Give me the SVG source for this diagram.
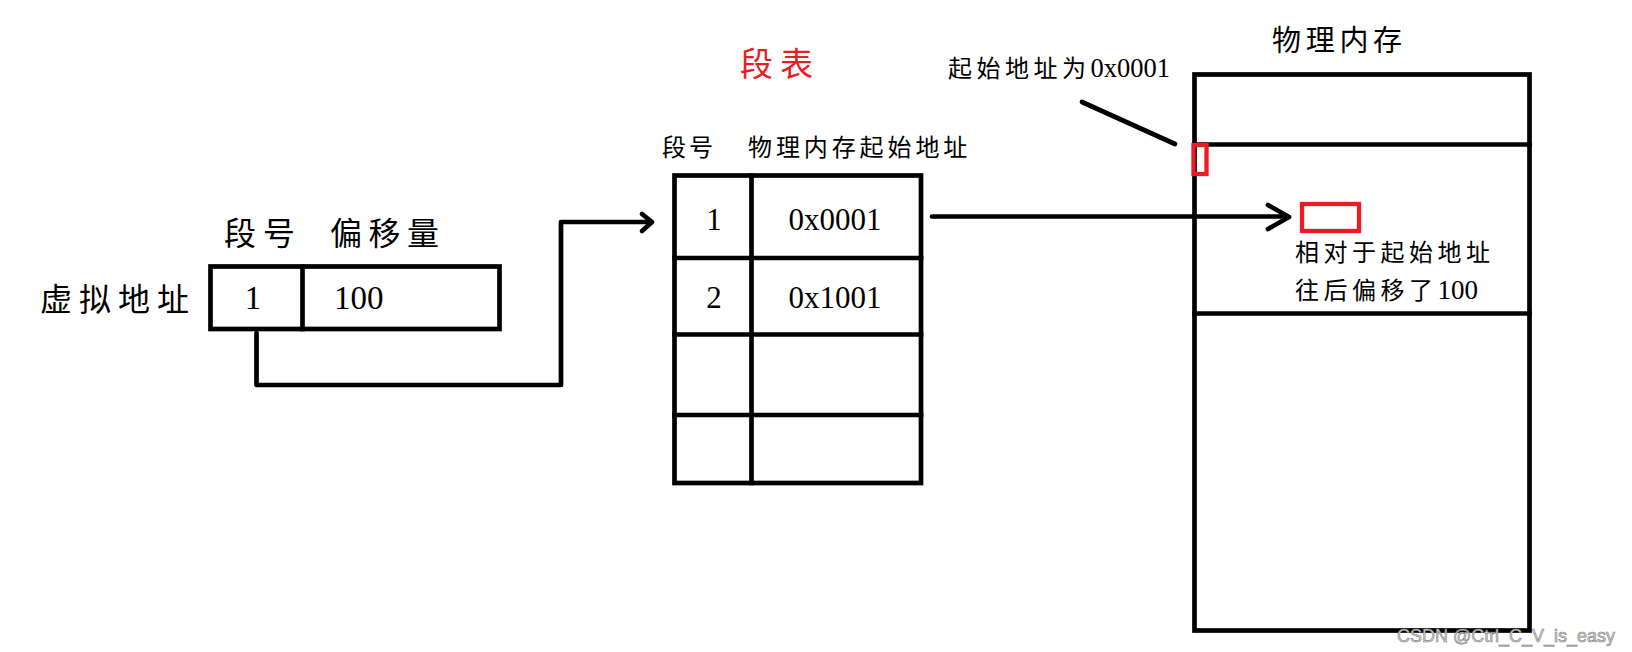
<svg xmlns="http://www.w3.org/2000/svg" width="1632" height="652" viewBox="0 0 1632 652">
<style>
.ln{fill:none;stroke:#000;stroke-width:4.7;stroke-linecap:square}
.rd{fill:none;stroke:#ed1c24;stroke-width:4.3}
.cjk{font-family:"Noto Sans CJK SC","Noto Sans CJK JP",sans-serif;fill:#000}
.num{font-family:"Liberation Serif","Times New Roman",serif;fill:#000}
.arr{fill:none;stroke:#000;stroke-width:4.7;stroke-linecap:round;stroke-linejoin:round}
</style>
<rect width="1632" height="652" fill="#fff"/>
<g id="virtual-address">
<text class="cjk" x="40" y="311" font-size="32" letter-spacing="7">虚拟地址</text>
<text class="cjk" x="224" y="245" font-size="32" letter-spacing="7">段号</text>
<text class="cjk" x="330" y="245" font-size="32" letter-spacing="6.5">偏移量</text>
<rect class="ln" x="210.5" y="266.5" width="289" height="62.5"/>
<line class="ln" x1="302.5" y1="266.5" x2="302.5" y2="329"/>
<text class="num" x="253" y="309" font-size="33" text-anchor="middle">1</text>
<text class="num" x="334" y="309" font-size="33">100</text>
</g>
<g id="segment-table">
<text x="740" y="76" font-size="33" letter-spacing="7" style="font-family:'Noto Sans CJK SC',sans-serif;fill:#ed1c24">段表</text>
<text class="cjk" x="662" y="156" font-size="24" letter-spacing="3">段号</text>
<text class="cjk" x="748" y="156" font-size="24" letter-spacing="3.9">物理内存起始地址</text>
<rect class="ln" x="674.5" y="175.5" width="246.5" height="307.5"/>
<line class="ln" x1="751.5" y1="175.5" x2="751.5" y2="483"/>
<line class="ln" x1="674.5" y1="258" x2="921" y2="258"/>
<line class="ln" x1="674.5" y1="334.5" x2="921" y2="334.5"/>
<line class="ln" x1="674.5" y1="415" x2="921" y2="415"/>
<text class="num" x="714" y="230" font-size="31" text-anchor="middle">1</text>
<text class="num" x="835" y="230" font-size="31" text-anchor="middle">0x0001</text>
<text class="num" x="714" y="308" font-size="31" text-anchor="middle">2</text>
<text class="num" x="835" y="308" font-size="31" text-anchor="middle">0x1001</text>
</g>
<g id="physical-memory">
<text class="cjk" x="1272" y="51" font-size="29" letter-spacing="4.7">物理内存</text>
<rect class="ln" x="1194.5" y="74.5" width="335" height="556"/>
<line class="ln" x1="1194.5" y1="144.5" x2="1529.5" y2="144.5"/>
<line class="ln" x1="1194.5" y1="313.5" x2="1529.5" y2="313.5"/>
<rect class="rd" x="1193.5" y="145" width="13" height="29"/>
<rect class="rd" x="1302" y="204" width="57" height="27"/>
<text class="cjk" x="1295" y="261" font-size="24" letter-spacing="4.5">相对于起始地址</text>
<text x="1295" y="299" font-size="24"><tspan class="cjk" letter-spacing="4.5">往后偏移了</tspan><tspan class="num" font-size="27">100</tspan></text>
</g>
<g id="start-label">
<text x="948" y="77" font-size="24"><tspan class="cjk" letter-spacing="4.5">起始地址为</tspan><tspan class="num" font-size="26.5">0x0001</tspan></text>
</g>
<g id="connectors">
<path class="arr" d="M256.5,333 V385 H561 V222 H651"/>
<polyline class="arr" points="642,214 652,222 642,231"/>
<path class="arr" d="M932,216.5 H1287"/>
<polyline class="arr" points="1268,205 1289,217 1268,229"/>
<path class="arr" d="M1082,102 L1175,144"/>
</g>
<text x="1397" y="642" font-size="19" textLength="218" lengthAdjust="spacingAndGlyphs" style="font-family:'Liberation Sans',Arial,sans-serif;fill:#d0d0d0;stroke:#808080;stroke-width:0.6">CSDN @Ctrl_C_V_is_easy</text>
</svg>
